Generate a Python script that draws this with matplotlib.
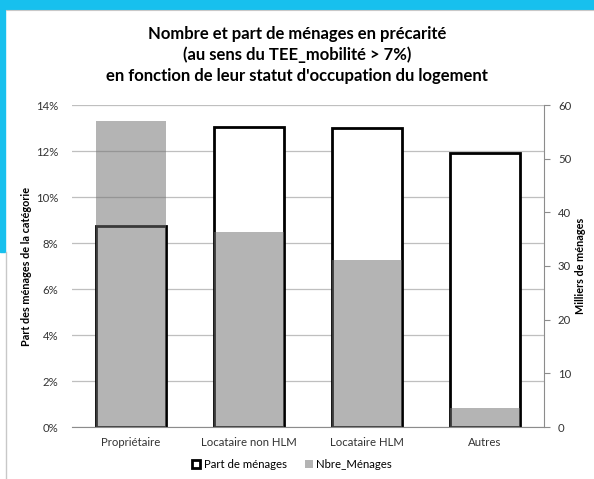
import matplotlib
matplotlib.use("Agg")
import matplotlib.pyplot as plt
import matplotlib.patches as mpatches
import numpy as np

plt.rcParams['font.family'] = ['Lato', 'DejaVu Sans']

# Daten
categories = ["Propriétaire", "Locataire non HLM", "Locataire HLM", "Autres"]
part_menages = [8.73, 13.03, 13.0, 11.9]      # % (axe gauche)
nbre_menages = [57.0, 36.3, 31.1, 3.5]        # milliers (axe droit)
left_ticks = [0, 2, 4, 6, 8, 10, 12, 14]
right_ticks = [0, 10, 20, 30, 40, 50, 60]

cyan = "#17c0ee"
fig = plt.figure(figsize=(5.94, 4.79), dpi=100)

# Rahmen
fig.patches.append(mpatches.Rectangle((0, 1 - 9/479), 1, 9/479, transform=fig.transFigure,
                                      color=cyan, zorder=0))
fig.patches.append(mpatches.Rectangle((0, 1 - 252/479), 5/594, 252/479, transform=fig.transFigure,
                                      color=cyan, zorder=0))
fig.lines.append(plt.Line2D([5.5/594, 5.5/594], [0, 1 - 252/479], transform=fig.transFigure,
                            color="#c8c8c8", lw=1))
fig.lines.append(plt.Line2D([5.5/594, 1], [1 - 9.5/479, 1 - 9.5/479], transform=fig.transFigure,
                            color="#c8c8c8", lw=0.8))

ax = fig.add_axes([72/594, 1 - 427/479, 472/594, 322/479])
x = np.arange(len(categories))
w = 0.585

# Part de ménages: weiße Balken mit schwarzem Rand
ax.bar(x, part_menages, width=w, color="white", edgecolor="black", linewidth=2, zorder=2)
ax.set_ylim(0, 14)
ax.set_xlim(-0.5, len(categories) - 0.5)
ax.set_yticks(left_ticks)
ax.set_yticklabels(["%d%%" % t for t in left_ticks])
ax.yaxis.grid(True, color="#bfbfbf", lw=0.9, zorder=0)
ax.set_axisbelow(True)
ax.set_xticks(x)
ax.set_xticklabels(categories)
ax.tick_params(axis="both", length=0, labelsize=8.2, colors="#333333", pad=7)
ax.tick_params(axis="y", pad=10)
for s in ["top", "left", "right"]:
    ax.spines[s].set_visible(False)
ax.spines["bottom"].set_color("#8c8c8c")
ax.set_ylabel("Part des ménages de la catégorie", fontsize=7.8, fontweight="bold", labelpad=3)

# Nbre_Ménages: graue Balken, halbtransparent darüber
ax2 = ax.twinx()
ax2.bar(x, nbre_menages, width=w, color="#6f6f6f", alpha=0.52, linewidth=0, zorder=2)
ax2.set_ylim(0, 60)
ax2.set_yticks(right_ticks)
ax2.tick_params(axis="y", length=4, color="#8c8c8c", labelsize=8.2, colors="#333333", pad=6)
for s in ["top", "left", "bottom"]:
    ax2.spines[s].set_visible(False)
ax2.spines["right"].set_color("#8c8c8c")
ax2.set_ylabel("Milliers de ménages", fontsize=7.8, fontweight="bold", labelpad=3)

fig.text(0.5, 1 - 55/479, "Nombre et part de ménages en précarité\n(au sens du TEE_mobilité > 7%)\n"
         "en fonction de leur statut d'occupation du logement",
         ha="center", va="center", fontsize=12, fontweight="bold", linespacing=1.35)

handles = [mpatches.Patch(facecolor="white", edgecolor="black", linewidth=2, label="Part de ménages"),
           mpatches.Patch(facecolor="#b4b4b4", edgecolor="none", label="Nbre_Ménages")]
fig.legend(handles=handles, loc="center", bbox_to_anchor=(292/594, 1 - 464/479), ncol=2,
           frameon=False, fontsize=8.2, handlelength=0.7, handleheight=0.7, handletextpad=0.3,
           columnspacing=1.6)

fig.savefig("out.png", dpi=100)
